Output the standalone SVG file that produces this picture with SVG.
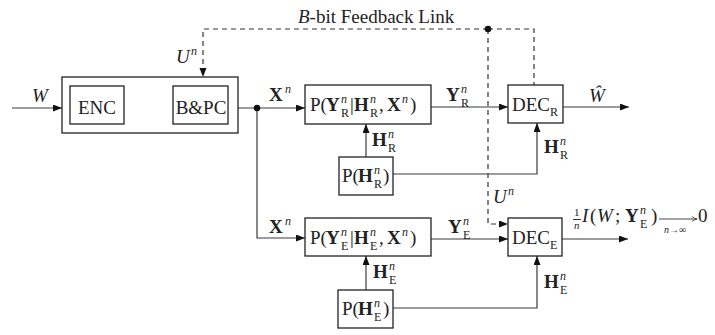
<svg xmlns="http://www.w3.org/2000/svg" width="715" height="335" viewBox="0 0 715 335">
<style>
text{font-family:"Liberation Serif","Times New Roman",serif;font-size:19px;fill:#222}
.b{font-weight:bold}
.i{font-style:italic}
.s{font-size:12px}
.box{fill:#fff;stroke:#222;stroke-width:1.3}
.ln{fill:none;stroke:#3a3a3a;stroke-width:1.2}
.ds{fill:none;stroke:#333;stroke-width:1.2;stroke-dasharray:5 4}
</style>
<defs>
<marker id="ah" markerUnits="userSpaceOnUse" markerWidth="10" markerHeight="8" refX="9" refY="3.5" orient="auto">
<path d="M0,0 L9,3.5 L0,7 z" fill="#111"/>
</marker>
<marker id="sa" markerUnits="userSpaceOnUse" markerWidth="6" markerHeight="6" refX="5" refY="3" orient="auto">
<path d="M0,0.5 Q2,2.5 5,3 Q2,3.5 0,5.5" fill="none" stroke="#333" stroke-width="0.8"/>
</marker>
</defs>

<g id="connectors">
<path class="ln" d="M12,108 H62" marker-end="url(#ah)"/>
<path class="ln" d="M124,108 H173" marker-end="url(#ah)"/>
<path class="ln" d="M238,108 H305" marker-end="url(#ah)"/>
<path class="ln" d="M257,108 V238 H305" marker-end="url(#ah)"/>
<circle cx="257" cy="108" r="3.3" fill="#111"/>
<path class="ln" d="M431,107 H508" marker-end="url(#ah)"/>
<path class="ln" d="M563,107 H629" marker-end="url(#ah)"/>
<path class="ln" d="M366,157 V124" marker-end="url(#ah)"/>
<path class="ln" d="M393,174 H537 V123" marker-end="url(#ah)"/>
<path class="ln" d="M431,239 H508" marker-end="url(#ah)"/>
<path class="ln" d="M562,239 H628" marker-end="url(#ah)"/>
<path class="ln" d="M366,290 V256" marker-end="url(#ah)"/>
<path class="ln" d="M393,308 H537 V256" marker-end="url(#ah)"/>
<path class="ds" d="M488,29 H203 V77" marker-end="url(#ah)"/>
<path class="ds" d="M488,29 H534 V85"/>
<path class="ds" d="M488,29 V224 H508" marker-end="url(#ah)"/>
<circle cx="488" cy="29" r="3.3" fill="#111"/>
</g>

<g id="labels">
<text x="298" y="23"><tspan class="i">B</tspan>-bit Feedback Link</text>
<text x="32" y="102" class="i">W</text>
<text x="139" y="97"><tspan class="b">T</tspan><tspan class="i s" x="152" y="89">n</tspan></text>
<text x="176" y="63"><tspan class="i">U</tspan><tspan class="i s" x="191" y="55">n</tspan></text>
<text x="269" y="101"><tspan class="b">X</tspan><tspan class="i s" x="285" y="93">n</tspan></text>
<text x="269" y="233"><tspan class="b">X</tspan><tspan class="i s" x="285" y="225">n</tspan></text>
<text x="446" y="101"><tspan class="b">Y</tspan><tspan class="i s" x="461" y="93">n</tspan><tspan class="s" x="461" y="107">R</tspan></text>
<text x="448" y="233"><tspan class="b">Y</tspan><tspan class="i s" x="463" y="225">n</tspan><tspan class="s" x="463" y="239">E</tspan></text>
<text x="589" y="102" class="i">Ŵ</text>
<text x="372" y="146"><tspan class="b">H</tspan><tspan class="i s" x="388" y="138">n</tspan><tspan class="s" x="388" y="152">R</tspan></text>
<text x="544" y="153"><tspan class="b">H</tspan><tspan class="i s" x="560" y="145">n</tspan><tspan class="s" x="560" y="159">R</tspan></text>
<text x="373" y="278"><tspan class="b">H</tspan><tspan class="i s" x="389" y="270">n</tspan><tspan class="s" x="389" y="284">E</tspan></text>
<text x="544" y="288"><tspan class="b">H</tspan><tspan class="i s" x="560" y="280">n</tspan><tspan class="s" x="560" y="294">E</tspan></text>
<text x="493" y="203"><tspan class="i">U</tspan><tspan class="i s" x="508" y="195">n</tspan></text>
<g id="mi-label">
<text x="574" y="216" style="font-size:11px">1</text>
<line x1="573" y1="219.5" x2="581" y2="219.5" stroke="#222" stroke-width="0.9"/>
<text x="574" y="229" class="i" style="font-size:11px">n</text>
<text x="582" y="222"><tspan class="i">I</tspan><tspan x="590">(</tspan><tspan class="i" x="597">W</tspan><tspan x="615">;</tspan><tspan class="b" x="625">Y</tspan><tspan class="i s" x="640" y="214">n</tspan><tspan class="s" x="640" y="228">E</tspan><tspan x="651" y="222">)</tspan><tspan x="698">0</tspan></text>
<path d="M659,219 H697" fill="none" stroke="#333" stroke-width="0.9" marker-end="url(#sa)"/>
<text x="664" y="233" style="font-size:10px"><tspan class="i">n</tspan>→∞</text>
</g>
</g>

<g id="transmitter">
<rect class="box" x="62" y="77" width="176" height="56"/>
</g>
<g id="enc">
<rect class="box" x="70" y="86" width="54" height="38"/>
<text x="97" y="114" text-anchor="middle">ENC</text>
</g>
<g id="bpc">
<rect class="box" x="173" y="86" width="55" height="38"/>
<text x="201" y="114" text-anchor="middle">B&amp;PC</text>
</g>
<g id="channel-r">
<rect class="box" x="305" y="85" width="126" height="39"/>
<text x="310" y="111">P(<tspan class="b" x="326">Y</tspan><tspan class="i s" x="341" y="103">n</tspan><tspan class="s" x="341" y="117">R</tspan><tspan x="350" y="111">|</tspan><tspan class="b" x="354">H</tspan><tspan class="i s" x="370" y="103">n</tspan><tspan class="s" x="370" y="117">R</tspan><tspan x="379" y="111">,</tspan><tspan class="b" x="387">X</tspan><tspan class="i s" x="402" y="103">n</tspan><tspan x="410" y="111">)</tspan></text>
</g>
<g id="channel-e">
<rect class="box" x="305" y="218" width="126" height="38"/>
<text x="310" y="244">P(<tspan class="b" x="326">Y</tspan><tspan class="i s" x="341" y="236">n</tspan><tspan class="s" x="341" y="250">E</tspan><tspan x="350" y="244">|</tspan><tspan class="b" x="354">H</tspan><tspan class="i s" x="370" y="236">n</tspan><tspan class="s" x="370" y="250">E</tspan><tspan x="379" y="244">,</tspan><tspan class="b" x="387">X</tspan><tspan class="i s" x="402" y="236">n</tspan><tspan x="410" y="244">)</tspan></text>
</g>
<g id="state-r">
<rect class="box" x="339" y="157" width="54" height="38"/>
<text x="342" y="182">P(<tspan class="b" x="358">H</tspan><tspan class="i s" x="374" y="174">n</tspan><tspan class="s" x="374" y="188">R</tspan><tspan x="383" y="182">)</tspan></text>
</g>
<g id="state-e">
<rect class="box" x="338" y="290" width="55" height="38"/>
<text x="342" y="315">P(<tspan class="b" x="358">H</tspan><tspan class="i s" x="374" y="307">n</tspan><tspan class="s" x="374" y="321">E</tspan><tspan x="383" y="315">)</tspan></text>
</g>
<g id="dec-r">
<rect class="box" x="508" y="85" width="55" height="38"/>
<text x="512" y="111">DEC<tspan class="s" x="550" y="116">R</tspan></text>
</g>
<g id="dec-e">
<rect class="box" x="508" y="218" width="54" height="38"/>
<text x="512" y="244">DEC<tspan class="s" x="550" y="249">E</tspan></text>
</g>
</svg>
